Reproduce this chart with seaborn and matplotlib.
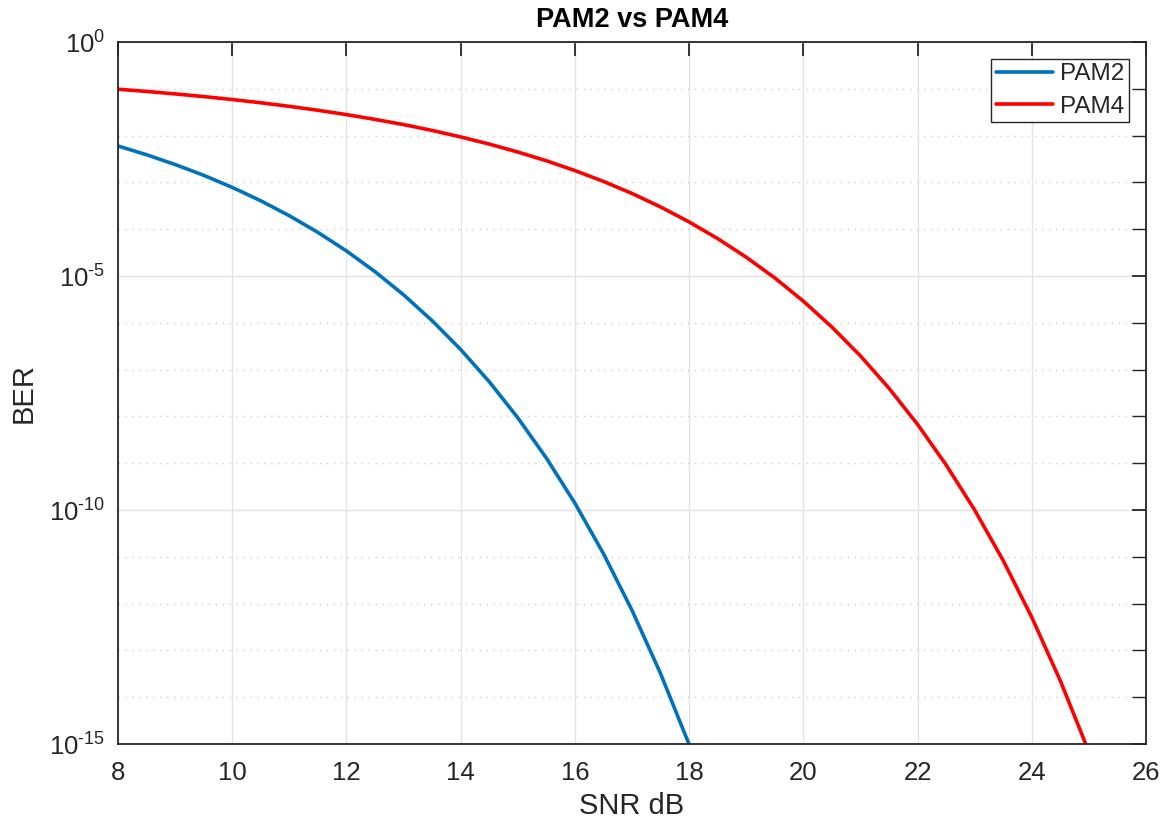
import numpy as np
import pandas as pd
import matplotlib
matplotlib.use("Agg")
import matplotlib.pyplot as plt
import matplotlib.ticker as mticker
import seaborn as sns

# SNR grid (dB) and bit error rates for each modulation
snr_db = [8.0, 8.5, 9.0, 9.5, 10.0, 10.5, 11.0, 11.5, 12.0, 12.5, 13.0, 13.5,
          14.0, 14.5, 15.0, 15.5, 16.0, 16.5, 17.0, 17.5, 18.0, 18.5, 19.0,
          19.5, 20.0, 20.5, 21.0, 21.5, 22.0, 22.5, 23.0, 23.5, 24.0, 24.5, 25.0]

ber_pam2 = [6.00e-3, 3.90e-3, 2.41e-3, 1.42e-3, 7.83e-4, 4.05e-4, 1.94e-4,
            8.56e-5, 3.43e-5, 1.24e-5, 3.97e-6, 1.11e-6, 2.69e-7, 5.52e-8,
            9.36e-9, 1.29e-9, 1.40e-10, 1.17e-11, 7.2e-13, 3.2e-14, 9.8e-16,
            2.0e-17, 3.0e-19, 3.0e-21, 2.0e-23, 1.0e-25, 3.0e-28, 5.0e-31,
            5.0e-34, 3.0e-37, 1.0e-40, 2.0e-44, 2.0e-48, 1.0e-52, 3.0e-57]

ber_pam4 = [9.80e-2, 8.78e-2, 7.78e-2, 6.82e-2, 5.90e-2, 5.03e-2, 4.22e-2,
            3.48e-2, 2.81e-2, 2.22e-2, 1.72e-2, 1.29e-2, 9.37e-3, 6.59e-3,
            4.46e-3, 2.90e-3, 1.79e-3, 1.05e-3, 5.80e-4, 2.99e-4, 1.43e-4,
            6.30e-5, 2.52e-5, 9.1e-6, 2.90e-6, 8.1e-7, 1.96e-7, 4.0e-8,
            6.75e-9, 9.2e-10, 1.0e-10, 8.3e-12, 5.1e-13, 2.25e-14, 6.8e-16]

series_names = ["PAM2", "PAM4"]
title_text = "PAM2 vs PAM4"
x_label = "SNR dB"
y_label = "BER"

df = pd.DataFrame({
    "snr": snr_db * 2,
    "ber": ber_pam2 + ber_pam4,
    "series": [series_names[0]] * len(snr_db) + [series_names[1]] * len(snr_db),
})

sns.set_style("white")
plt.rcParams["font.family"] = ["Liberation Sans", "DejaVu Sans"]
plt.rcParams["mathtext.fontset"] = "custom"
plt.rcParams["mathtext.rm"] = "Liberation Sans"
plt.rcParams["mathtext.it"] = "Liberation Sans"
plt.rcParams["mathtext.default"] = "regular"

axis_color = "#262626"

fig = plt.figure(figsize=(11.63, 8.22), dpi=100)
ax = fig.add_axes([118 / 1163, 1 - 744 / 822, (1146 - 118) / 1163, (744 - 42) / 822])

sns.lineplot(data=df, x="snr", y="ber", hue="series",
             palette={"PAM2": "#0072BD", "PAM4": "#FF0000"},
             linewidth=2.6, ax=ax, legend=True)

ax.set_yscale("log")
ax.set_xlim(8, 26)
ax.set_ylim(1e-15, 1e0)


def decade_label(v, pos):
    e = int(round(np.log10(v)))
    return r"10$^{\text{%d}}$" % e


ax.xaxis.set_major_locator(mticker.MultipleLocator(2))
ax.yaxis.set_major_locator(mticker.FixedLocator([1e-15, 1e-10, 1e-5, 1e0]))
ax.yaxis.set_minor_locator(mticker.FixedLocator([10.0 ** k for k in range(-15, 1)]))
ax.yaxis.set_minor_formatter(mticker.NullFormatter())
ax.yaxis.set_major_formatter(mticker.FuncFormatter(decade_label))

# grid: solid at major ticks, dotted at each decade
ax.grid(True, which="major", color="#e3e3e3", linewidth=1.0, linestyle="-")
ax.grid(True, which="minor", axis="y", color="#cfcfcf", linewidth=1.0,
        linestyle=(0, (1, 4)))
ax.set_axisbelow(True)

for s in ax.spines.values():
    s.set_color(axis_color)
    s.set_linewidth(1.3)

ax.tick_params(which="both", direction="in", top=True, right=True,
               color=axis_color, labelcolor=axis_color)
ax.tick_params(which="major", length=10, width=1.3, labelsize=18.5)
ax.tick_params(axis="x", which="major", pad=12)
ax.tick_params(axis="y", which="major", pad=9)
ax.tick_params(which="minor", length=10, width=1.0)
ax.tick_params(axis="x", which="minor", length=0)

ax.set_xlabel(x_label, fontsize=21, color=axis_color, labelpad=5)
ax.set_ylabel(y_label, fontsize=21, color=axis_color, labelpad=8)
ax.set_title(title_text, fontsize=19.5, fontweight="bold", color="black", pad=11)

leg = ax.legend(loc="upper right", fontsize=17.5, frameon=True, fancybox=False,
                edgecolor=axis_color, framealpha=1, handlelength=2.35,
                borderpad=0.2, labelspacing=0.42, handletextpad=0.3,
                borderaxespad=0.68)
leg.get_frame().set_linewidth(1.0)
for line in leg.get_lines():
    line.set_linewidth(2.6)

fig.savefig("out.png", dpi=100)
